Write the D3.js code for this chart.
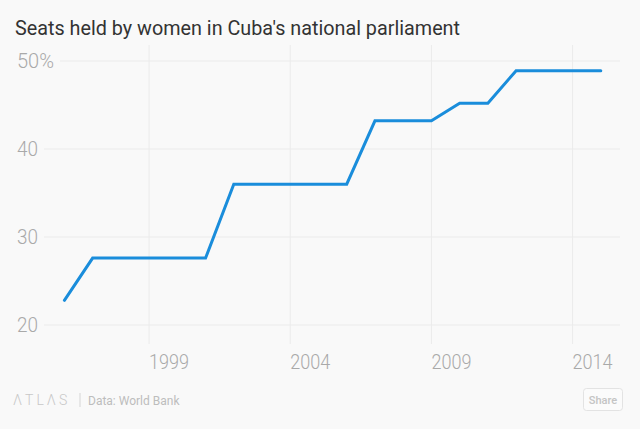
<!DOCTYPE html>
<html><head><meta charset="utf-8">
<script src="https://cdn.jsdelivr.net/npm/d3@7"></script>
<style>
html,body{margin:0;padding:0;background:#f9f9f9;}
svg{display:block;}
</style></head>
<body>
<svg id="c" width="640" height="429"></svg>
<script>
const years = [1996,1997,1998,1999,2000,2001,2002,2003,2004,2005,2006,2007,2008,2009,2010,2011,2012,2013,2014,2015];
const seats = [22.8,27.6,27.6,27.6,27.6,27.6,36.0,36.0,36.0,36.0,36.0,43.2,43.2,43.2,45.2,45.2,48.9,48.9,48.9,48.9];
const xTicks = [1999,2004,2009,2014];
const yTicks = [20,30,40,50];
const title = "Seats held by women in Cuba's national parliament";
const source = "Data: World Bank";

const svg = d3.select("#c");
svg.append("rect").attr("width",640).attr("height",429).attr("fill","#f9f9f9");

const x = d3.scaleLinear().domain([1996,2015]).range([64.4,600.8]);
const y = d3.scaleLinear().domain([20,50]).range([325,61]);

// title
svg.append("text").attr("x",15).attr("y",35)
  .attr("font-family","Roboto").attr("font-size",21).attr("fill","#333")
  .attr("textLength",445).attr("lengthAdjust","spacingAndGlyphs")
  .text(title);

// vertical grid
svg.append("g").selectAll("line").data(xTicks).join("line")
  .attr("x1",d=>x(d)).attr("x2",d=>x(d)).attr("y1",45).attr("y2",344)
  .attr("stroke","#ebebeb").attr("stroke-width",1);

// y labels and horizontal grid
const yg = svg.append("g");
yTicks.forEach(t=>{
  const lbl = yg.append("text").attr("x",17).attr("y",y(t)).attr("dy","0.35em")
    .attr("font-family","Roboto").attr("font-weight",300).attr("font-size",19.5)
    .attr("fill","#a9a9a9").text(t===50? t+"%" : t);
  lbl.attr("textLength", t===50?37:21).attr("lengthAdjust","spacingAndGlyphs");
  const w = lbl.node().getComputedTextLength();
  yg.insert("line","text").attr("x1",17+(t===50?37:21)+6).attr("x2",620)
    .attr("y1",y(t)).attr("y2",y(t)).attr("stroke","#ebebeb").attr("stroke-width",1);
});

// x labels
svg.append("g").selectAll("text").data(xTicks).join("text")
  .attr("x",d=>x(d)).attr("y",369)
  .attr("font-family","Roboto").attr("font-weight",300).attr("font-size",19.5)
  .attr("fill","#a9a9a9").attr("textLength",40).attr("lengthAdjust","spacingAndGlyphs")
  .text(d=>d);

// line
const line = d3.line().x((d,i)=>x(years[i])).y(d=>y(d));
svg.append("path").datum(seats).attr("d",line)
  .attr("fill","none").attr("stroke","#1a8ddb").attr("stroke-width",3)
  .attr("stroke-linejoin","miter").attr("stroke-linecap","round");

// footer
svg.append("text").attr("x",13).attr("y",405)
  .attr("font-family","Roboto").attr("font-weight",300).attr("font-size",14)
  .attr("fill","#c8c8c8").attr("letter-spacing",3).text("ΛTLΛS");
svg.append("line").attr("x1",80).attr("x2",80).attr("y1",393).attr("y2",407)
  .attr("stroke","#d5d5d5").attr("stroke-width",1);
svg.append("text").attr("x",88).attr("y",404.5)
  .attr("font-family","Roboto").attr("font-size",12)
  .attr("fill","#bdbdbd").text(source);

// share button
svg.append("rect").attr("x",583.5).attr("y",388.5).attr("width",39).attr("height",22).attr("rx",3)
  .attr("fill","#fbfbfb").attr("stroke","#e3e3e3");
svg.append("text").attr("x",603).attr("y",403.5).attr("text-anchor","middle")
  .attr("font-family","Roboto").attr("font-weight",500).attr("font-size",11)
  .attr("fill","#c4c4c4").text("Share");
</script>
</body></html>
